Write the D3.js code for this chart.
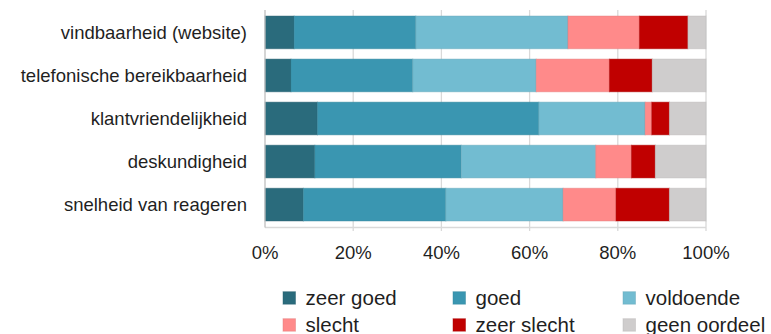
<!DOCTYPE html>
<html>
<head>
<meta charset="utf-8">
<script src="https://cdn.jsdelivr.net/npm/d3@7"></script>
<style>
  html, body { margin: 0; padding: 0; background: #fff; }
  svg { display: block; font-family: "Liberation Sans", Arial, sans-serif; }
</style>
</head>
<body>
<svg id="chart" width="771" height="334"></svg>
<script>
const categories = ["vindbaarheid (website)", "telefonische bereikbaarheid", "klantvriendelijkheid", "deskundigheid", "snelheid van reageren"];
const seriesNames = ["zeer goed", "goed", "voldoende", "slecht", "zeer slecht", "geen oordeel"];
const seriesColors = ["#2a6b7c", "#3a96b1", "#72bcd1", "#ff8a8a", "#c00000", "#cfcdcd"];
const zeerGoed    = [6.6, 5.9, 11.9, 11.3, 8.7];
const goed        = [27.6, 27.6, 50.2, 33.2, 32.3];
const voldoende   = [34.5, 28.0, 24.1, 30.5, 26.6];
const slecht      = [16.2, 16.6, 1.5, 8.1, 12.0];
const zeerSlecht  = [11.0, 9.7, 4.0, 5.4, 12.1];
const geenOordeel = [4.1, 12.2, 8.3, 11.5, 8.3];
const tickValues = [0, 0.2, 0.4, 0.6, 0.8, 1.0];

const seriesValues = [zeerGoed, goed, voldoende, slecht, zeerSlecht, geenOordeel];
const rows = categories.map((c, i) => {
  const r = { cat: c };
  seriesNames.forEach((s, j) => r[s] = seriesValues[j][i] / 100);
  return r;
});

const svg = d3.select("#chart");
const x = d3.scaleLinear().domain([0, 1]).range([265, 706]);
const y = d3.scaleBand().domain(categories).range([10, 227]).paddingInner(0.24).paddingOuter(0.14);

// gridlines
svg.append("g").selectAll("line").data(tickValues.slice(1)).join("line")
  .attr("x1", d => x(d)).attr("x2", d => x(d))
  .attr("y1", 10).attr("y2", 231)
  .attr("stroke", "#d9d9d9").attr("stroke-width", 1.3);

// bottom axis line
svg.append("line").attr("x1", x(0)).attr("x2", x(1)).attr("y1", 227.5).attr("y2", 227.5)
  .attr("stroke", "#d9d9d9").attr("stroke-width", 1.3);

const stack = d3.stack().keys(seriesNames)(rows);
svg.append("g").selectAll("g").data(stack).join("g")
  .attr("fill", (d, i) => seriesColors[i])
  .attr("stroke", (d, i) => d3.color(seriesColors[i]).darker(0.35))
  .attr("stroke-opacity", 0.45)
  .attr("stroke-width", 1)
  .selectAll("rect").data(d => d).join("rect")
  .attr("x", d => x(d[0]))
  .attr("width", d => x(d[1]) - x(d[0]))
  .attr("y", d => y(d.data.cat))
  .attr("height", y.bandwidth());

// left axis line
svg.append("line").attr("x1", x(0)).attr("x2", x(0)).attr("y1", 10).attr("y2", 227.5)
  .attr("stroke", "#bfbfbf").attr("stroke-width", 1.3);

// category labels
svg.append("g").selectAll("text").data(categories).join("text")
  .attr("x", 247).attr("y", d => y(d) + y.bandwidth() / 2 + 6.6)
  .attr("text-anchor", "end").attr("font-size", 18.5).attr("fill", "#1f1f1f")
  .text(d => d);

// tick labels
svg.append("g").selectAll("text").data(tickValues).join("text")
  .attr("x", d => x(d)).attr("y", 259)
  .attr("text-anchor", "middle").attr("font-size", 18.5).attr("fill", "#1f1f1f")
  .text(d => d3.format(".0%")(d));

// legend
const legend = svg.append("g");
const colX = [283, 453, 623];
const rowY = [305, 332];
seriesNames.forEach((s, i) => {
  const cx = colX[i % 3], ry = rowY[Math.floor(i / 3)];
  legend.append("rect").attr("x", cx).attr("y", ry - 13.3).attr("width", 12.5).attr("height", 12.5)
    .attr("fill", seriesColors[i])
    .attr("stroke", d3.color(seriesColors[i]).darker(0.35)).attr("stroke-opacity", 0.45);
  legend.append("text").attr("x", cx + 22.5).attr("y", ry)
    .attr("font-size", 20.5).attr("fill", "#1f1f1f").text(s);
});
</script>
</body>
</html>
